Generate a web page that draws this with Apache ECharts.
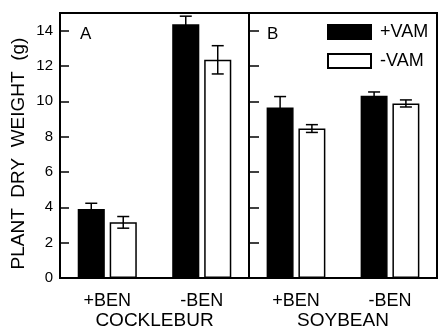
<!DOCTYPE html>
<html>
<head>
<meta charset="utf-8">
<script src="https://cdn.jsdelivr.net/npm/echarts@6/dist/echarts.min.js"></script>
<style>html,body{margin:0;padding:0;background:#fff}#c{width:439px;height:329px}</style>
</head>
<body>
<div id="c"></div>
<script>
var categories = ['+BEN', '-BEN'];
var yTicks = [0, 2, 4, 6, 8, 10, 12, 14];
var cockleburVAM = [3.9, 14.37];
var cockleburVAMErr = [0.33, 0.45];
var cockleburNoVAM = [3.15, 12.35];
var cockleburNoVAMErr = [0.33, 0.8];
var soybeanVAM = [9.65, 10.31];
var soybeanVAMErr = [0.62, 0.22];
var soybeanNoVAM = [8.46, 9.88];
var soybeanNoVAMErr = [0.22, 0.2];

var FONT = 'Liberation Sans, Arial, sans-serif';
var CAT_GAP = 0.375, BAR_GAP = 0.18;

function errSeries(gi, means, errs, side) {
  return {
    type: 'custom', xAxisIndex: gi, yAxisIndex: gi, z: 5, silent: true,
    data: means.map(function (m, i) { return [i, m, errs[i]]; }),
    renderItem: function (params, api) {
      var i = api.value(0), m = api.value(1), e = api.value(2);
      var catW = api.size([1, 0])[0];
      var w = catW * (1 - CAT_GAP) / (2 + BAR_GAP);
      var off = side * w * (1 + BAR_GAP) / 2;
      var hi = api.coord([i, m + e]);
      var lo = api.coord([i, m - e]);
      var x = hi[0] + off, cap = 6;
      var st = { stroke: '#000', lineWidth: 1.5 };
      return { type: 'group', children: [
        { type: 'line', shape: { x1: x, y1: hi[1], x2: x, y2: lo[1] }, style: st },
        { type: 'line', shape: { x1: x - cap, y1: hi[1], x2: x + cap, y2: hi[1] }, style: st },
        { type: 'line', shape: { x1: x - cap, y1: lo[1], x2: x + cap, y2: lo[1] }, style: st }
      ]};
    }
  };
}

function barSeries(gi, name, data, black) {
  return {
    type: 'bar', name: name, xAxisIndex: gi, yAxisIndex: gi, data: data,
    barCategoryGap: (CAT_GAP * 100) + '%', barGap: (BAR_GAP * 100) + '%',
    itemStyle: { color: black ? '#000' : '#fff', borderColor: '#000', borderWidth: 1.5 },
    silent: true
  };
}

function yAxis(gi, withLabels) {
  return {
    type: 'value', gridIndex: gi, min: 0, max: 15, interval: 2,
    axisLine: { show: true, lineStyle: { color: '#000', width: 2 } },
    axisTick: { show: true, inside: true, length: withLabels ? 9 : 10, lineStyle: { color: '#000', width: 1.5 },
      customValues: yTicks },
    axisLabel: withLabels ? { show: true, color: '#000', fontSize: 15, fontFamily: FONT, margin: 7, customValues: yTicks } : { show: false },
    splitLine: { show: false },
    name: withLabels ? 'PLANT  DRY  WEIGHT  (g)' : '',
    nameLocation: 'middle', nameGap: 32, nameMoveOverlap: false,
    nameTextStyle: { color: '#000', fontSize: 19, fontFamily: FONT, padding: [0, 16, 0, 0] }
  };
}

function xAxis(gi, title) {
  return {
    type: 'category', gridIndex: gi, data: categories,
    axisLine: { show: true, lineStyle: { color: '#000', width: 2 } },
    axisTick: { show: false },
    axisLabel: { color: '#000', fontSize: 18, fontFamily: FONT, margin: 14 },
    name: title, nameLocation: 'middle', nameGap: 33, nameMoveOverlap: false,
    nameTextStyle: { color: '#000', fontSize: 19, fontFamily: FONT }
  };
}

var option = {
  animation: false,
  backgroundColor: '#fff',
  grid: [
    { left: 60, top: 13, width: 189, height: 265, outerBoundsMode: 'none', containLabel: false, show: true, borderColor: '#000', borderWidth: 2, backgroundColor: 'transparent' },
    { left: 249, top: 13, width: 188, height: 265, outerBoundsMode: 'none', containLabel: false, show: true, borderColor: '#000', borderWidth: 2, backgroundColor: 'transparent' }
  ],
  xAxis: [xAxis(0, 'COCKLEBUR'), xAxis(1, 'SOYBEAN')],
  yAxis: [yAxis(0, true), yAxis(1, false)],
  legend: {
    data: ['+VAM', '-VAM'], orient: 'vertical', left: 327, top: 23, padding: 0,
    itemWidth: 43, itemHeight: 14, itemGap: 11, icon: 'rect',
    textStyle: { color: '#000', fontSize: 18, fontFamily: FONT, padding: [0, 0, 0, 4] }
  },
  graphic: [
    { type: 'text', left: 80, top: 26, style: { text: 'A', fill: '#000', font: '17px ' + FONT } },
    { type: 'text', left: 267, top: 26, style: { text: 'B', fill: '#000', font: '17px ' + FONT } }
  ],
  series: [
    barSeries(0, '+VAM', cockleburVAM, true),
    barSeries(0, '-VAM', cockleburNoVAM, false),
    barSeries(1, '+VAM', soybeanVAM, true),
    barSeries(1, '-VAM', soybeanNoVAM, false),
    errSeries(0, cockleburVAM, cockleburVAMErr, -1),
    errSeries(0, cockleburNoVAM, cockleburNoVAMErr, 1),
    errSeries(1, soybeanVAM, soybeanVAMErr, -1),
    errSeries(1, soybeanNoVAM, soybeanNoVAMErr, 1)
  ]
};
var chart = echarts.init(document.getElementById('c'), null, { renderer: 'canvas' });
chart.setOption(option);
</script>
</body>
</html>
